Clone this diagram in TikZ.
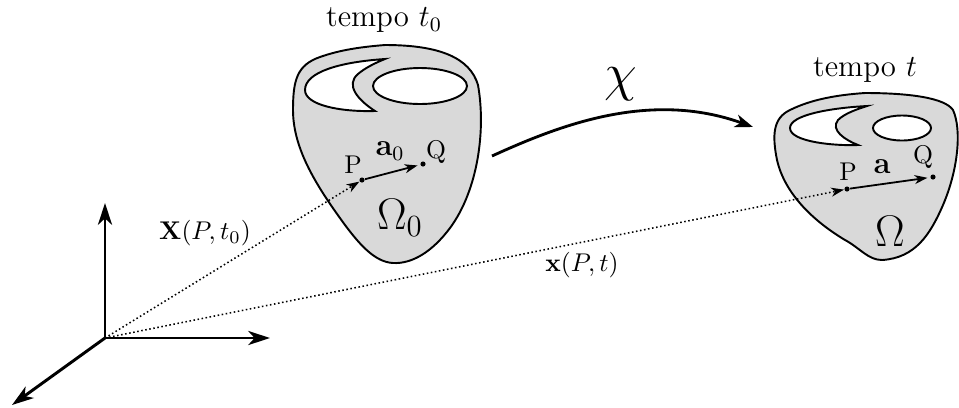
\documentclass[tikz,border=0pt]{standalone}
\usetikzlibrary{arrows.meta}
\begin{document}
\begin{tikzpicture}[x=0.39pt,y=-0.39pt,
  blob/.style={draw=black,fill=black!15,line width=0.75pt},
  hole/.style={draw=black,fill=white,line width=0.75pt},
  axis/.style={line width=1.15pt,-{Stealth[length=8.5pt,width=5.5pt,inset=2.5pt]}},
  posvec/.style={densely dotted,line width=0.6pt,-{Stealth[length=5pt,width=3.5pt,inset=1.5pt]}},
  vec/.style={line width=0.7pt,-{Stealth[length=5pt,width=3.5pt,inset=1.5pt]},shorten >=1pt},
  dot/.style={circle,fill=black,inner sep=0pt,minimum size=2pt},
  lbl/.style={inner sep=1pt}]
\useasboundingbox (0,0) rectangle (959,407);
% left body
\draw[blob] (385,45) .. controls (440,45) and (470,58) .. (478,85)
  .. controls (486,130) and (478,190) .. (450,228)
  .. controls (432,252) and (412,264) .. (393,263)
  .. controls (375,262) and (360,245) .. (345,225)
  .. controls (318,188) and (293,150) .. (293,110)
  .. controls (293,80) and (297,65) .. (320,57)
  .. controls (340,50) and (360,47) .. (385,45) -- cycle;
\draw[hole] (385,59) .. controls (340,62) and (305,72) .. (305,90)
  .. controls (305,105) and (340,112) .. (375,111)
  .. controls (358,100) and (345,85) .. (358,74)
  .. controls (365,68) and (375,63) .. (385,59) -- cycle;
\draw[hole] (420,86) ellipse [x radius=47,y radius=18];
% right body
\draw[blob] (865,93) .. controls (910,93) and (945,98) .. (953,110)
  .. controls (962,130) and (958,170) .. (943,205)
  .. controls (930,235) and (915,258) .. (882,260)
  .. controls (868,260) and (860,248) .. (845,240)
  .. controls (815,222) and (785,195) .. (777,160)
  .. controls (772,135) and (773,118) .. (790,110)
  .. controls (810,100) and (835,95) .. (865,93) -- cycle;
\draw[hole] (867,106) .. controls (830,108) and (790,115) .. (790,128)
  .. controls (790,142) and (835,146) .. (858,145)
  .. controls (845,140) and (830,130) .. (838,120)
  .. controls (845,113) and (858,109) .. (867,106) -- cycle;
\draw[hole] (902,128) ellipse [x radius=29,y radius=12.5];
% axes
\coordinate (O) at (105,338);
\coordinate (ey) at (105,203);
\coordinate (ex) at (270,338);
\coordinate (ez) at (12,405);
\draw[axis] (O) -- (ey);
\draw[axis] (O) -- (ex);
\draw[axis] (O) -- (ez);
% points
\node[dot] (P0) at (362,180) {};
\node[dot] (Q0) at (423,164) {};
\node[dot] (P) at (847,189) {};
\node[dot] (Q) at (933,177) {};
\draw[posvec] (O) -- (P0);
\draw[posvec] (O) -- (P);
\draw[vec] (P0) -- (Q0);
\draw[vec] (P) -- (Q);
% labels
\node[lbl] (lP0) at (353,165) {P};
\node[lbl] (lQ0) at (436,152) {Q};
\node[lbl] (la0) at (390,151) {\large$\mathbf{a}_0$};
\node[lbl] (lP) at (848,172) {P};
\node[lbl] (lQ) at (923,157) {Q};
\node[lbl] (la) at (882,167) {\large$\mathbf{a}$};
\node[lbl] (O0) at (400,218) {\LARGE$\Omega_0$};
\node[lbl] (O1) at (890,231) {\LARGE$\Omega$};
\node[lbl] (t0) at (384,20) {\large tempo $t_0$};
\node[lbl] (t1) at (865,70) {\large tempo $t$};
\node[lbl] (X) at (205,233) {$\mathbf{X}(P,t_0)$};
\node[lbl] (x) at (582,265) {$\mathbf{x}(P,t)$};
% motion
\coordinate (c1) at (492,156);
\coordinate (c2) at (753,127);
\draw[line width=1.1pt,-{Stealth[length=7pt,width=5pt,inset=2pt]}] (c1) .. controls (560,125) and (650,90) .. (c2);
\node[lbl] (chi) at (621,84) {\huge$\chi$};
\end{tikzpicture}
\end{document}
